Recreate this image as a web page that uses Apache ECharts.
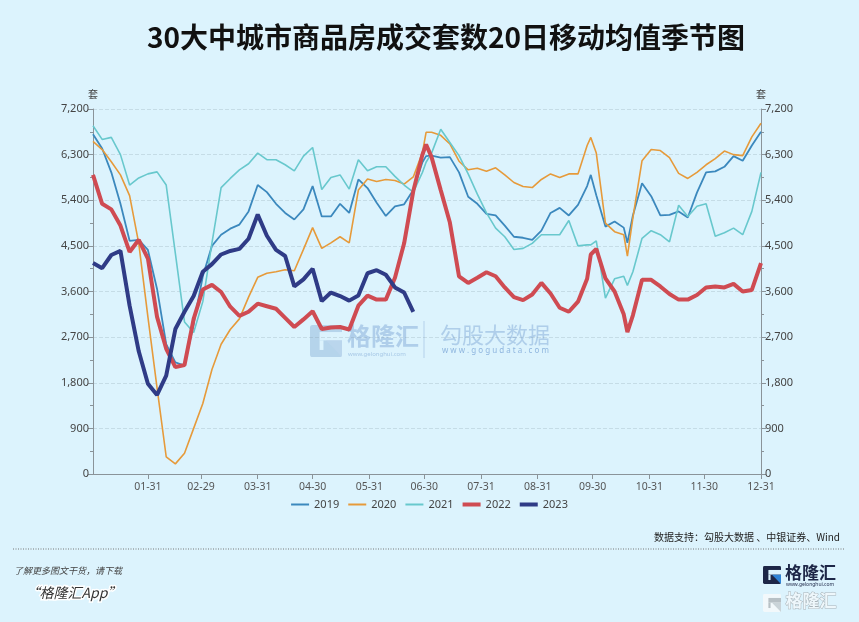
<!DOCTYPE html>
<html>
<head>
<meta charset="utf-8">
<script src="https://cdn.jsdelivr.net/npm/echarts@6/dist/echarts.min.js"></script>
<style>
html,body{margin:0;padding:0;background:#dcf3fd;}
#chart{width:859px;height:622px;}
</style>
</head>
<body>
<div id="chart"></div>
<script>
// x 轴：全年日期（含 02-29），只在月末显示标签
var monthDays = [31, 29, 31, 30, 31, 30, 31, 31, 30, 31, 30, 31];
var dayLabels = [];
var monthEnds = {};
for (var m = 0; m < 12; m++) {
    for (var d = 1; d <= monthDays[m]; d++) {
        var s = (m < 9 ? '0' : '') + (m + 1) + '-' + (d < 10 ? '0' : '') + d;
        dayLabels.push(s);
        if (d === monthDays[m]) monthEnds[s] = true;
    }
}

// 取样日（第几天，从 01-01 = 0 起）
var sampleDays = [0,5,10,15,20,25,30,35,40,45,50,55,60,65,70,75,80,85,90,95,100,105,110,115,120,125,130,135,140,145,150,155,160,165,170,175,180,182,185,190,195,200,205,210,215,220,225,230,235,240,245,250,255,260,265,270,272,275,280,285,290,292,295,300,305,310,315,320,325,330,335,340,345,350,355,360,365];

var years = ['2019', '2020', '2021', '2022', '2023'];

var v2019 = [6700,6420,5950,5330,4600,4620,4420,3650,2560,2200,2140,2960,3900,4500,4720,4840,4920,5180,5700,5560,5330,5150,5020,5220,5680,5080,5080,5330,5150,5810,5640,5350,5090,5280,5320,5600,6150,6270,6280,6240,6250,5950,5470,5330,5130,5100,4900,4680,4660,4620,4800,5150,5250,5100,5310,5680,5900,5500,4880,4980,4860,4560,5100,5735,5480,5100,5110,5180,5060,5550,5950,5970,6060,6270,6180,6480,6750];
var v2020 = [6560,6400,6160,5900,5490,4550,3100,1700,340,200,410,900,1390,2060,2560,2850,3060,3490,3880,3960,3990,4030,4010,4430,4860,4450,4560,4680,4560,5600,5820,5770,5810,5790,5720,5860,6340,6740,6740,6680,6510,6170,6000,6030,5970,6040,5900,5750,5670,5650,5810,5920,5850,5920,5920,6480,6640,6330,4950,4780,4720,4300,5050,6180,6400,6380,6240,5930,5830,5950,6100,6220,6370,6300,6280,6650,6920];
var v2021 = [6870,6600,6640,6300,5700,5840,5920,5960,5700,4350,3000,2790,3400,4560,5650,5830,6000,6120,6330,6200,6200,6100,5980,6270,6440,5610,5850,5900,5620,6200,5980,6060,6060,5870,5700,5560,5950,6150,6330,6800,6540,6280,5920,5520,5150,4850,4680,4430,4450,4550,4720,4720,4720,5000,4500,4520,4520,4600,3470,3850,3900,3720,3990,4650,4800,4720,4580,5300,5080,5280,5330,4690,4760,4850,4720,5180,5950];
var v2022 = [5900,5330,5220,4900,4380,4620,4250,3100,2470,2110,2150,3060,3640,3730,3590,3300,3120,3200,3360,3310,3260,3080,2900,3050,3210,2860,2890,2900,2850,3320,3520,3440,3440,3870,4550,5580,6300,6500,6250,5600,4960,3900,3770,3870,3980,3900,3680,3490,3430,3540,3770,3560,3280,3200,3400,3850,4330,4440,3860,3600,3150,2800,3130,3830,3830,3700,3550,3440,3440,3530,3680,3700,3680,3750,3600,3630,4160];
var v2023 = [4160,4060,4320,4400,3320,2420,1780,1560,1940,2860,3200,3510,3990,4140,4330,4400,4440,4640,5120,4700,4420,4300,3700,3840,4050,3410,3580,3510,3420,3520,3960,4020,3930,3680,3580,3200];

var yearValues = [v2019, v2020, v2021, v2022, v2023];
var colors = ['#3b88bd', '#e69a3a', '#68c8cd', '#cf4b52', '#2f3b86'];
var widths = [1.8, 1.6, 1.6, 4, 4];

var bg = '#dcf3fd';
var chart = echarts.init(document.getElementById('chart'));

var series = years.map(function (y, i) {
    return {
        name: y,
        type: 'line',
        yAxisIndex: 0,
        showSymbol: false,
        symbol: 'none',
        data: yearValues[i].map(function (v, k) { return [sampleDays[k], v]; }),
        lineStyle: {color: colors[i], width: widths[i]},
        itemStyle: {color: colors[i]},
        z: 3 + i
    };
});

// 图例：细线 / 粗线 两种图标
var legendData = years.map(function (y, i) {
    var h = widths[i] > 3 ? 4 : 2;
    return {name: y, icon: 'path://M0,0L18,0L18,' + h + 'L0,' + h + 'Z'};
});

function yAxisCfg(pos) {
    return {
        type: 'value',
        position: pos,
        min: 0,
        max: 7200,
        interval: 900,
        name: '套',
        nameLocation: 'end',
        nameGap: 10,
        nameTextStyle: {color: '#444', fontSize: 10, fontFamily: 'Noto Sans CJK SC'},
        axisLine: {show: true, lineStyle: {color: '#8a9399', width: 1}},
        axisTick: {show: true, length: 5, lineStyle: {color: '#8a9399'}},
        minorTick: {show: true, splitNumber: 2, length: 3, lineStyle: {color: '#8a9399'}},
        axisLabel: {
            color: '#444', fontSize: 11, margin: 4,
            fontFamily: 'Noto Sans',
            formatter: function (v) { return v.toLocaleString('en-US'); }
        },
        splitLine: {show: pos === 'left', lineStyle: {color: 'rgba(120,140,150,0.22)', type: 'dashed'}}
    };
}

// G 图标
function gIcon(x, y, s, dark, accent, inner, extra) {
    var base = extra || {};
    function el(o) { for (var k in base) o[k] = base[k]; return o; }
    return [
        el({type: 'rect', shape: {x: x, y: y, width: s, height: s, r: s * 0.08}, style: {fill: dark}}),
        el({type: 'rect', shape: {x: x + s * 0.3, y: y + s * 0.22, width: s * 0.7, height: s * 0.26}, style: {fill: inner}}),
        el({type: 'rect', shape: {x: x + s * 0.3, y: y + s * 0.48, width: s * 0.12, height: s * 0.3}, style: {fill: inner}}),
        el({type: 'polygon', shape: {points: [[x + s * 0.5, y + s * 0.48], [x + s, y + s * 0.48], [x + s, y + s]]}, style: {fill: accent}})
    ];
}

var wm = {silent: true, z: -5};
var graphics = []
    .concat(gIcon(310, 325, 32, 'rgba(150,185,220,0.55)', 'rgba(190,215,238,0.6)', bg, wm))
    .concat([
        {type: 'text', silent: true, z: -5, left: 347, top: 324, style: {text: '格隆汇', fill: 'rgba(130,170,215,0.5)', font: 'bold 24px "Noto Sans CJK SC"'}},
        {type: 'text', silent: true, z: -5, left: 348, top: 351, style: {text: 'www.gelonghui.com', fill: 'rgba(130,170,215,0.6)', font: '6px "Noto Sans"'}},
        {type: 'line', silent: true, z: -5, shape: {x1: 424, y1: 321, x2: 424, y2: 358}, style: {stroke: 'rgba(130,170,215,0.45)', lineWidth: 1}},
        {type: 'text', silent: true, z: -5, left: 440, top: 324, style: {text: '勾股大数据', fill: 'rgba(130,170,215,0.5)', font: '22px "Noto Sans CJK SC"'}},
        {type: 'text', silent: true, z: -5, left: 442, top: 347, style: {text: 'w w w . g o g u d a t a . c o m', fill: 'rgba(110,155,210,0.7)', font: '8px "Noto Sans"'}},

        {type: 'text', right: 19, top: 532, style: {text: '数据支持：勾股大数据 、中银证券、Wind', fill: '#222', font: '10px "Noto Sans CJK SC"'}},
        {type: 'line', shape: {x1: 13, y1: 549, x2: 845, y2: 549}, style: {stroke: '#777', lineWidth: 1, lineDash: [1, 1.5]}},
        {type: 'text', left: 14, top: 566, style: {text: '了解更多图文干货，请下载', fill: '#444', font: 'italic 9px "Noto Sans CJK SC"'}},
        {type: 'text', left: 24, top: 584, style: {text: '“格隆汇App”', fill: '#333', font: 'italic 14px "Noto Sans CJK SC"', stroke: '#fff', lineWidth: 3}},

        {type: 'text', left: 785, top: 564, style: {text: '格隆汇', fill: '#1d2647', font: 'bold 17px "Noto Sans CJK SC"'}},
        {type: 'text', left: 786, top: 582, style: {text: 'www.gelonghui.com', fill: '#1d2647', font: '5px "Noto Sans"'}},
        {type: 'text', left: 785, top: 592, style: {text: '格隆汇', fill: '#eef7fb', stroke: '#a9b3b8', lineWidth: 1, font: 'bold 17px "Noto Sans CJK SC"'}}
    ])
    .concat(gIcon(763, 566, 18, '#1d2647', '#2f83d6', bg))
    .concat(gIcon(763, 594, 18, '#f2f8fb', '#c9d3d8', '#b7c0c5'));

chart.setOption({
    backgroundColor: bg,
    animation: false,
    color: colors,
    title: {
        text: '30大中城市商品房成交套数20日移动均值季节图',
        left: 142,
        top: 18,
        textStyle: {color: '#111', fontSize: 28, fontWeight: 'bold', fontFamily: 'Noto Sans CJK SC'}
    },
    legend: {
        data: legendData,
        top: 494,
        left: 'center',
        itemWidth: 18,
        itemHeight: 6,
        itemGap: 9,
        textStyle: {color: '#444', fontSize: 11, fontFamily: 'Noto Sans'}
    },
    grid: {left: 93, right: 98, top: 109, bottom: 148},
    xAxis: {
        type: 'category',
        boundaryGap: false,
        data: dayLabels,
        axisLine: {lineStyle: {color: '#8a9399'}},
        axisTick: {
            show: true, length: 5, lineStyle: {color: '#8a9399'},
            interval: function (i, v) { return !!monthEnds[v]; }
        },
        axisLabel: {
            color: '#555', fontSize: 10.5, margin: 8,
            fontFamily: 'Noto Sans',
            interval: function (i, v) { return !!monthEnds[v]; }
        },
        splitLine: {show: false}
    },
    yAxis: [yAxisCfg('left'), yAxisCfg('right')],
    series: series.concat([{type: 'line', yAxisIndex: 1, data: [], silent: true}]),
    graphic: graphics
});
</script>
</body>
</html>
